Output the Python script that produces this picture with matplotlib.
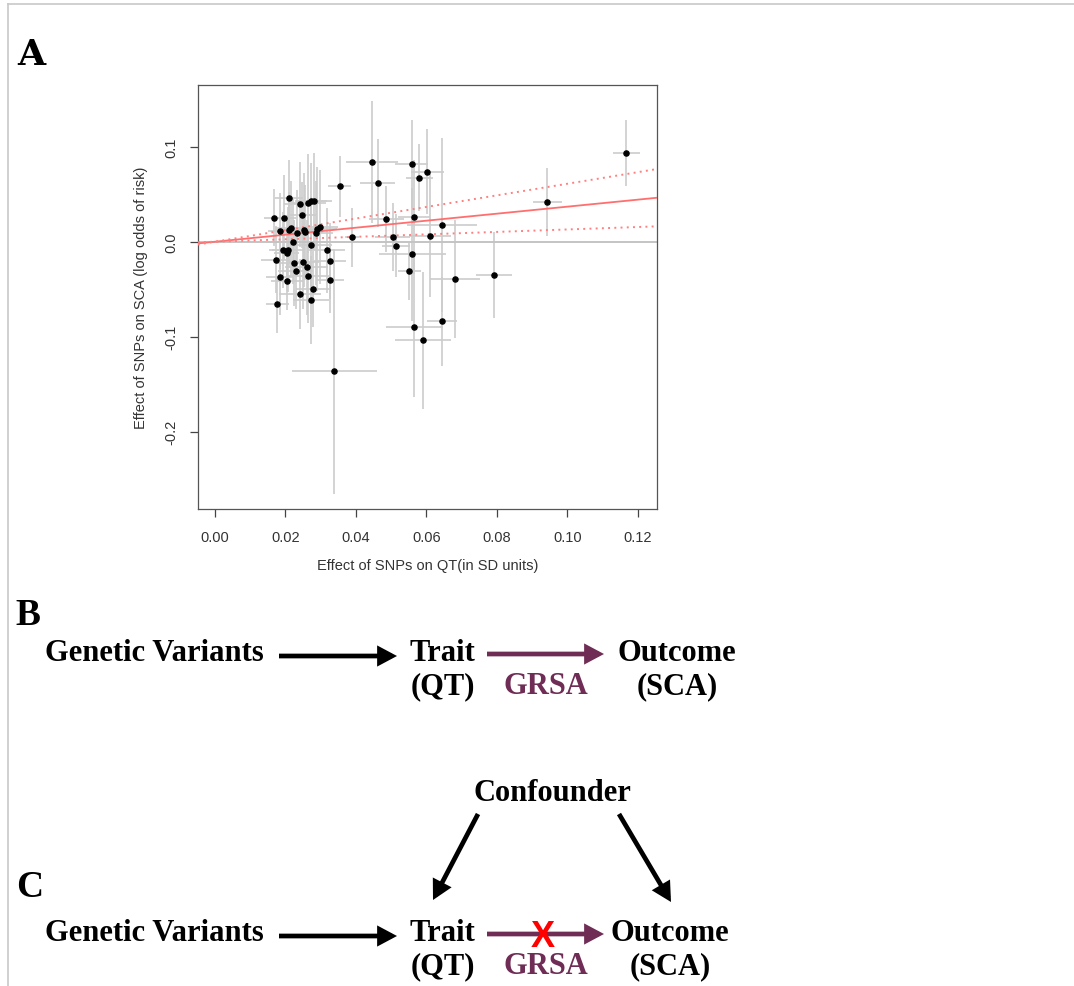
"""
plot.py
Panel A: SNP effects on QT vs SCA with error bars and MR slope lines.
Panels B and C: causal diagrams drawn as text + arrows.
"""

import matplotlib
matplotlib.use('Agg')
import matplotlib.pyplot as plt
from matplotlib.patches import FancyArrowPatch

# --- panel A data ---
qt_beta = [0.0446, 0.0462, 0.0354, 0.0558, 0.0580, 0.0603, 0.0210, 0.0241,
           0.0265, 0.0273, 0.0281, 0.0246, 0.0169, 0.0196, 0.0486, 0.0565,
           0.0185, 0.0210, 0.0216, 0.0232, 0.0252, 0.0256, 0.0286, 0.0291,
           0.0299, 0.0221, 0.0273, 0.0390, 0.0505, 0.0514, 0.0611, 0.0192,
           0.0208, 0.0204, 0.0172, 0.0318, 0.0327, 0.0224, 0.0250, 0.0260,
           0.0229, 0.0560, 0.0552, 0.0184, 0.0204, 0.0264, 0.0327, 0.0241,
           0.0279, 0.0273, 0.0177, 0.0339, 0.0566, 0.0590, 0.1168, 0.0944,
           0.0645, 0.0681, 0.0792, 0.0645]
sca_beta = [0.0839, 0.0618, 0.0583, 0.0818, 0.0674, 0.0737, 0.0457, 0.0394,
            0.0404, 0.0428, 0.0428, 0.0281, 0.0253, 0.0253, 0.0239, 0.0263,
            0.0109, 0.0126, 0.0141, 0.0092, 0.0126, 0.0099, 0.0092, 0.0134,
            0.0155, 0.0000, -0.0032, 0.0049, 0.0049, -0.0042, 0.0063, -0.0091,
            -0.0084, -0.0116, -0.0189, -0.0091, -0.0203, -0.0224, -0.0211, -0.0270,
            -0.0312, -0.0133, -0.0312, -0.0368, -0.0417, -0.0358, -0.0400, -0.0547,
            -0.0498, -0.0614, -0.0659, -0.1364, -0.0895, -0.1038, 0.0934, 0.0418,
            0.0176, -0.0396, -0.0351, -0.0838]
qt_ci = [0.0073, 0.0050, 0.0033, 0.0048, 0.0038, 0.0047, 0.0040, 0.0045,
         0.0050, 0.0045, 0.0050, 0.0040, 0.0030, 0.0035, 0.0050, 0.0045,
         0.0035, 0.0040, 0.0045, 0.0040, 0.0055, 0.0050, 0.0050, 0.0055,
         0.0050, 0.0045, 0.0060, 0.0020, 0.0050, 0.0040, 0.0060, 0.0040,
         0.0045, 0.0035, 0.0040, 0.0050, 0.0045, 0.0050, 0.0045, 0.0060,
         0.0050, 0.0095, 0.0033, 0.0040, 0.0045, 0.0060, 0.0040, 0.0060,
         0.0050, 0.0052, 0.0033, 0.0120, 0.0080, 0.0080, 0.0038, 0.0040,
         0.0100, 0.0070, 0.0050, 0.0043]
sca_ci = [0.064, 0.046, 0.032, 0.046, 0.035, 0.045, 0.040, 0.045,
          0.052, 0.040, 0.051, 0.035, 0.030, 0.045, 0.035, 0.060,
          0.040, 0.040, 0.050, 0.045, 0.060, 0.050, 0.055, 0.065,
          0.060, 0.045, 0.050, 0.031, 0.036, 0.033, 0.065, 0.040,
          0.045, 0.040, 0.035, 0.045, 0.040, 0.045, 0.050, 0.050,
          0.040, 0.070, 0.030, 0.040, 0.030, 0.050, 0.035, 0.037,
          0.040, 0.046, 0.030, 0.129, 0.074, 0.072, 0.0345, 0.036,
          0.092, 0.062, 0.045, 0.047]

# MR estimate and its CI bounds (slopes through origin)
slope_est = 0.369
slope_lo = 0.129
slope_hi = 0.61

x_ticks = [0.00, 0.02, 0.04, 0.06, 0.08, 0.10, 0.12]
y_ticks = [-0.2, -0.1, 0.0, 0.1]

W, H = 1074, 987
fig = plt.figure(figsize=(W / 100, H / 100), dpi=100)

# background layer in pixel coords for border, letters and diagrams
bg = fig.add_axes([0, 0, 1, 1])
bg.set_xlim(0, W)
bg.set_ylim(H, 0)
bg.axis('off')
bg.plot([8, 8], [5, H], color='#c8c8c8', lw=1.2)
bg.plot([8, W], [5, 5], color='#c8c8c8', lw=1.2)

# --- panel A scatter ---
ax = fig.add_axes([197.7 / W, 1 - 510 / H, 459 / W, 424 / H])
ax.errorbar(qt_beta, sca_beta, xerr=qt_ci, yerr=sca_ci, fmt='none',
            ecolor='#cccccc', elinewidth=1.2, capsize=0, zorder=1)
ax.axhline(0, color='#c4c4c4', lw=1.4, zorder=2)
ax.axline((0, 0), slope=slope_est, color='#ff6f6f', lw=1.3, zorder=3)
ax.axline((0, 0), slope=slope_lo, color='#ff8080', lw=1.4,
          linestyle=(0, (1, 2.2)), zorder=3)
ax.axline((0, 0), slope=slope_hi, color='#ff8080', lw=1.4,
          linestyle=(0, (1, 2.2)), zorder=3)
ax.plot(qt_beta, sca_beta, 'o', color='black', ms=3.7, zorder=4)

ax.set_xlim(-0.0049, 0.1254)
ax.set_ylim(-0.2814, 0.165)
ax.set_xticks(x_ticks)
ax.set_xticklabels(['%.2f' % t for t in x_ticks])
ax.set_yticks(y_ticks)
ax.set_yticklabels(['%.1f' % t for t in y_ticks], rotation=90, va='center')

axis_font = dict(family='Liberation Sans', color='#333333', fontsize=10.5)
for lab in ax.get_xticklabels() + ax.get_yticklabels():
    lab.set_family('Liberation Sans')
    lab.set_fontsize(10.5)
    lab.set_color('#333333')
ax.tick_params(direction='out', length=6, width=0.9, color='#444444')
ax.tick_params(axis='x', pad=9)
ax.tick_params(axis='y', pad=8)
for sp in ax.spines.values():
    sp.set_color('#555555')
    sp.set_linewidth(0.9)
ax.set_xlabel('Effect of SNPs on QT(in SD units)', labelpad=10, **axis_font)
ax.set_ylabel('Effect of SNPs on SCA (log odds of risk)', labelpad=12, **axis_font)

# --- panel letters ---
bg.text(17, 65, 'A', family='DejaVu Serif', weight='bold', fontsize=26,
        va='baseline', ha='left', color='black')
bg.text(15, 625, 'B', family='Liberation Serif', weight='bold', fontsize=27,
        va='baseline', ha='left', color='black')
bg.text(16, 897, 'C', family='Liberation Serif', weight='bold', fontsize=27,
        va='baseline', ha='left', color='black')

purple = '#6f2c55'
dia_font = dict(family='Liberation Serif', weight='bold', fontsize=22,
                va='baseline', ha='center')


def arrow(x0, y0, x1, y1, color):
    bg.add_patch(FancyArrowPatch((x0, y0), (x1, y1),
                                 arrowstyle='-|>,head_length=0.45,head_width=0.24',
                                 mutation_scale=20, lw=3.4, color=color,
                                 joinstyle='miter', capstyle='butt',
                                 shrinkA=0, shrinkB=0))


def diagram_row(base, arrow_y, out_x):
    bg.text(154, base, 'Genetic Variants', color='black', **dia_font)
    bg.text(442, base, 'Trait', color='black', **dia_font)
    bg.text(443, base + 33, '(QT)', color='black', **dia_font)
    bg.text(546, base + 33, 'GRSA', color=purple, **dia_font)
    bg.text(out_x, base, 'Outcome', color='black', **dia_font)
    bg.text(out_x, base + 33, '(SCA)', color='black', **dia_font)
    arrow(279, arrow_y, 397, arrow_y, 'black')
    arrow(487, arrow_y - 2, 604, arrow_y - 2, purple)


# panel B
diagram_row(661, 657, 677)

# panel C
bg.text(552, 801, 'Confounder', color='black', **dia_font)
arrow(478, 815, 433, 901, 'black')
arrow(619, 815, 671, 903, 'black')
diagram_row(941, 937, 670)
bg.text(543, 947, 'X', family='Liberation Sans', weight='bold', fontsize=26,
        color='red', ha='center', va='baseline')

fig.savefig('out.png', dpi=100)
